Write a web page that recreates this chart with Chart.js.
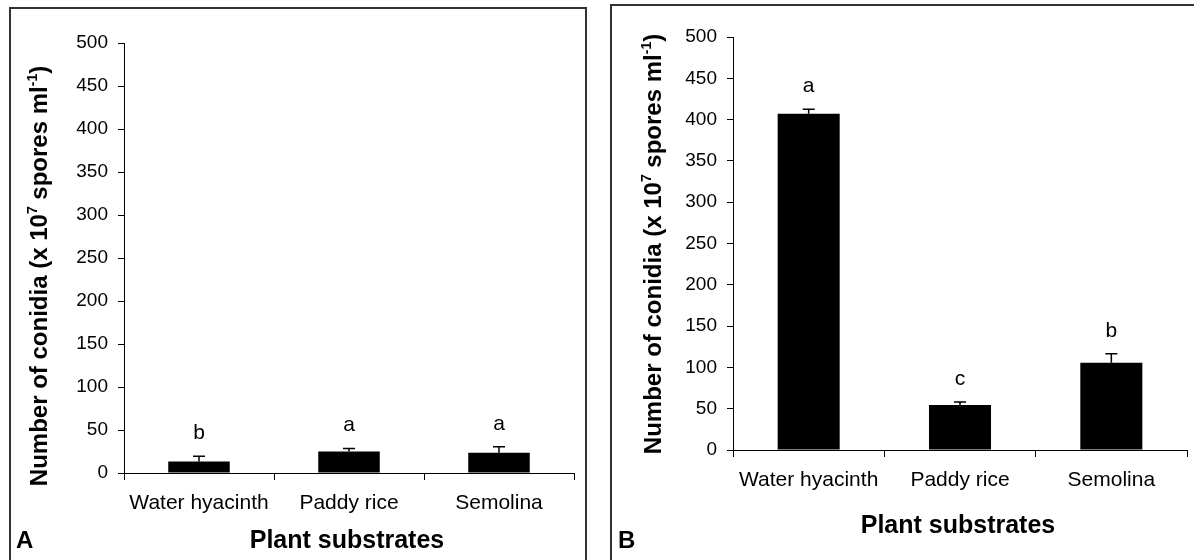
<!DOCTYPE html>
<html>
<head>
<meta charset="utf-8">
<script src="https://cdn.jsdelivr.net/npm/chart.js@4.4.1/dist/chart.umd.min.js"></script>
<style>
    html, body { margin: 0; padding: 0; background: #fff; overflow: hidden; }
    #wrap { position: relative; width: 1194px; height: 560px; overflow: hidden; }
    .panel { position: absolute; border: 2px solid #333; box-sizing: border-box; }
    canvas { position: absolute; top: 0; }
</style>
</head>
<body>
<div id="wrap">
    <div class="panel" style="left:9px; top:7px; width:578px; height:600px;"></div>
    <div class="panel" style="left:610px; top:4px; width:600px; height:600px;"></div>
    <canvas id="graficoA" width="597" height="560" style="left:0px"></canvas>
    <canvas id="graficoB" width="597" height="560" style="left:597px"></canvas>
</div>
<script>
// valores
const substrates = ['Water hyacinth', 'Paddy rice', 'Semolina'];
const yTicksMax = 500;
const yTicksStep = 50;

const conidiaA = [13.5, 25, 23.5];
const errorA = [6, 3.5, 7];
const lettersA = ['b', 'a', 'a'];

const conidiaB = [407, 54.5, 105.5];
const errorB = [5.5, 3.5, 11];
const lettersB = ['a', 'c', 'b'];

const FONT = "'Liberation Sans', Arial, Helvetica, sans-serif";

// barras de error (solo hacia arriba) y letras de significancia
const errorBarsPlugin = {
    id: 'errorBars',
    afterDatasetsDraw: function (chart, args, opts) {
        const ctx = chart.ctx;
        const yScale = chart.scales.y;
        const meta = chart.getDatasetMeta(0);
        const values = chart.data.datasets[0].data;
        ctx.save();
        meta.data.forEach(function (bar, i) {
            const top = yScale.getPixelForValue(values[i]);
            const errTop = yScale.getPixelForValue(values[i] + opts.errors[i]);
            ctx.strokeStyle = '#000';
            ctx.lineWidth = 1.5;
            ctx.beginPath();
            ctx.moveTo(bar.x, top);
            ctx.lineTo(bar.x, errTop);
            ctx.moveTo(bar.x - 6, errTop);
            ctx.lineTo(bar.x + 6, errTop);
            ctx.stroke();

            ctx.fillStyle = '#000';
            ctx.font = '21px ' + FONT;
            ctx.textAlign = 'center';
            ctx.textBaseline = 'alphabetic';
            ctx.fillText(opts.letters[i], bar.x, errTop - 17);
        });
        ctx.restore();
    }
};

// titulos de ejes con superindices y letra del panel
const titlesPlugin = {
    id: 'titles',
    afterDraw: function (chart, args, opts) {
        const ctx = chart.ctx;
        ctx.save();
        ctx.fillStyle = '#000';

        const parts = [
            ['Number of conidia (x 10', false],
            ['7', true],
            [' spores ml', false],
            ['-1', true],
            [')', false]
        ];
        const normal = 'bold 24px ' + FONT;
        const small = 'bold 14px ' + FONT;
        let total = 0;
        parts.forEach(function (p) {
            ctx.font = p[1] ? small : normal;
            total += ctx.measureText(p[0]).width;
        });
        ctx.translate(opts.yTitleX, opts.yTitleY);
        ctx.rotate(-Math.PI / 2);
        ctx.textAlign = 'left';
        ctx.textBaseline = 'alphabetic';
        let x = -total / 2;
        parts.forEach(function (p) {
            ctx.font = p[1] ? small : normal;
            ctx.fillText(p[0], x, p[1] ? -10 : 0);
            x += ctx.measureText(p[0]).width;
        });
        ctx.setTransform(1, 0, 0, 1, 0, 0);
        ctx.scale(chart.currentDevicePixelRatio, chart.currentDevicePixelRatio);

        ctx.font = 'bold 25px ' + FONT;
        ctx.textAlign = 'center';
        ctx.fillText('Plant substrates', opts.xTitleX, opts.xTitleY);

        ctx.font = 'bold 24px ' + FONT;
        ctx.textAlign = 'left';
        ctx.fillText(opts.panel, opts.panelX, opts.panelY);
        ctx.restore();
    }
};

function make_chart(canvasId, values, errors, letters, box, titles) {
    const ctx = document.getElementById(canvasId).getContext('2d');

    new Chart(ctx, {
        type: 'bar',
        data: {
            labels: substrates,
            datasets: [{
                data: values,
                backgroundColor: '#000',
                borderWidth: 0,
                categoryPercentage: 1,
                barPercentage: 0.41
            }]
        },
        options: {
            responsive: false,
            animation: false,
            layout: {
                padding: { left: 0, right: box.right, top: box.top, bottom: 0 }
            },
            scales: {
                y: {
                    min: 0,
                    max: yTicksMax,
                    ticks: {
                        stepSize: yTicksStep,
                        color: '#000',
                        padding: 10,
                        font: { family: FONT, size: 19 }
                    },
                    grid: {
                        drawOnChartArea: false,
                        drawTicks: true,
                        tickLength: 6,
                        color: '#000'
                    },
                    border: { color: '#000', width: 1 },
                    afterFit: function (scale) { scale.width = box.axisX; }
                },
                x: {
                    ticks: {
                        color: '#000',
                        padding: 11,
                        font: { family: FONT, size: 21 }
                    },
                    grid: {
                        offset: true,
                        drawOnChartArea: false,
                        drawTicks: true,
                        tickLength: 7,
                        color: '#000'
                    },
                    border: { color: '#000', width: 1 },
                    afterFit: function (scale) { scale.height = 560 - box.axisY; }
                }
            },
            plugins: {
                legend: { display: false },
                tooltip: { enabled: false },
                errorBars: { errors: errors, letters: letters },
                titles: titles
            }
        },
        plugins: [errorBarsPlugin, titlesPlugin]
    });
}

make_chart('graficoA', conidiaA, errorA, lettersA,
    { axisX: 124, axisY: 473, top: 43, right: 23 },
    { yTitleX: 47, yTitleY: 276, xTitleX: 347, xTitleY: 548, panel: 'A', panelX: 16, panelY: 548 });

make_chart('graficoB', conidiaB, errorB, lettersB,
    { axisX: 136, axisY: 450, top: 37, right: 7 },
    { yTitleX: 64, yTitleY: 244, xTitleX: 361, xTitleY: 533, panel: 'B', panelX: 21, panelY: 548 });
</script>
</body>
</html>
